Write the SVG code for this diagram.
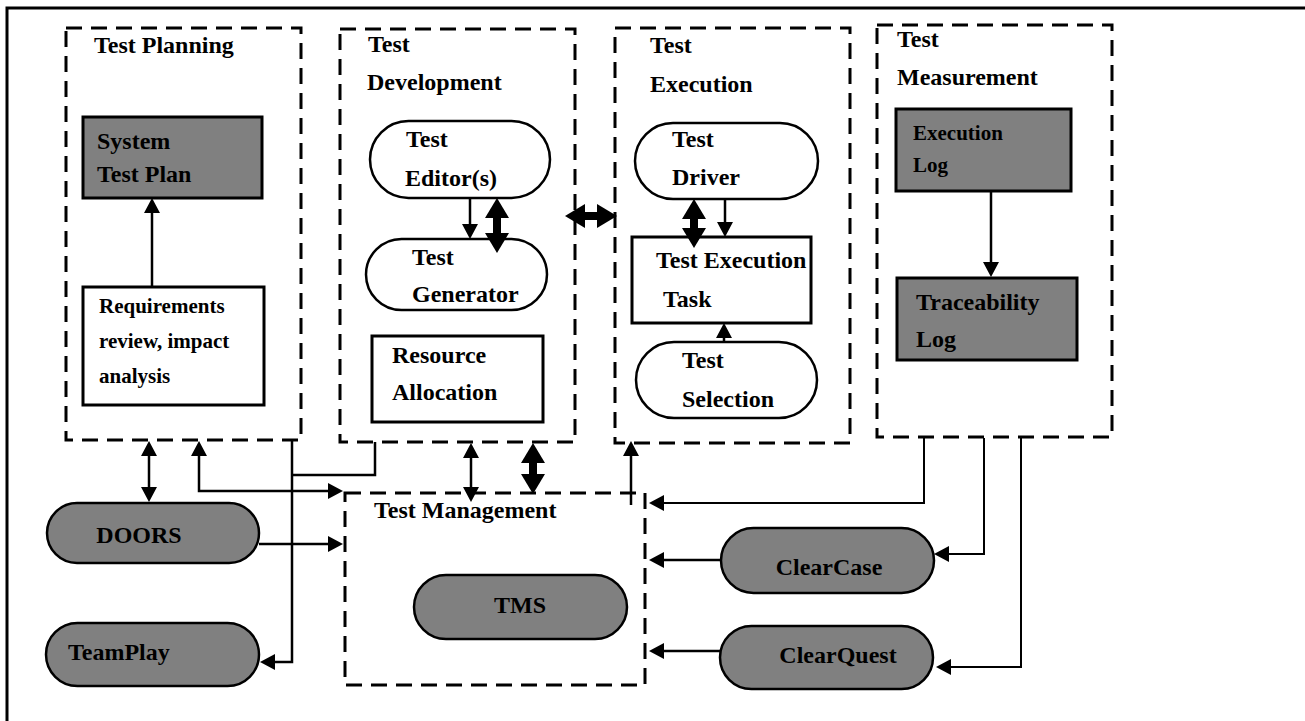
<svg xmlns="http://www.w3.org/2000/svg" width="1305" height="721" viewBox="0 0 1305 721">
<style>
text{font-family:"Liberation Serif","Times New Roman",serif;font-weight:bold;font-size:24px;fill:#000}
.sm{font-size:21px}
.grp{fill:none;stroke:#000;stroke-width:3;stroke-dasharray:16 9}
.box{fill:#fff;stroke:#000;stroke-width:3}
.gbox{fill:#808080;stroke:#000;stroke-width:3}
.pill{fill:#fff;stroke:#000;stroke-width:2.5}
.gpill{fill:#808080;stroke:#000;stroke-width:2.5}
.c{fill:none;stroke:#000;stroke-width:2.5}
.t{fill:none;stroke:#000;stroke-width:2}
.k{fill:none;stroke:#000;stroke-width:8}
</style>
<defs>
<marker id="a" markerUnits="userSpaceOnUse" viewBox="0 0 15 16" refX="0" refY="8" markerWidth="15" markerHeight="16" orient="auto-start-reverse"><path d="M0,0 L15,8 L0,16 z" fill="#000"/></marker>
<marker id="b" markerUnits="userSpaceOnUse" viewBox="0 0 20 24" refX="0" refY="12" markerWidth="20" markerHeight="24" orient="auto-start-reverse"><path d="M0,0 L20,12 L0,24 z" fill="#000"/></marker>
</defs>
<g id="frame"><path d="M7,721 V8 H1305" fill="none" stroke="#000" stroke-width="3"/></g>

<g id="test-planning">
<rect class="grp" x="66" y="28" width="235" height="412"/>
<text x="94" y="53">Test Planning</text>
</g>
<g id="system-test-plan">
<rect class="gbox" x="83" y="117" width="179" height="81"/>
<text x="97" y="149">System</text><text x="97" y="182">Test Plan</text>
</g>
<g id="requirements">
<rect class="box" x="83" y="287" width="181" height="118"/>
<text class="sm" x="99" y="313">Requirements</text><text class="sm" x="99" y="348">review, impact</text><text class="sm" x="99" y="383">analysis</text>
</g>

<g id="test-development">
<rect class="grp" x="340" y="29" width="235" height="413"/>
<text x="368" y="52">Test</text><text x="367" y="90">Development</text>
</g>
<g id="test-editors">
<rect class="pill" x="370" y="121" width="180" height="77" rx="38.5"/>
<text x="406" y="147">Test</text><text x="405" y="186">Editor(s)</text>
</g>
<g id="test-generator">
<rect class="pill" x="366" y="239" width="181" height="71" rx="35.5"/>
<text x="412" y="265">Test</text><text x="412" y="302">Generator</text>
</g>
<g id="resource-allocation">
<rect class="box" x="372" y="336" width="171" height="86"/>
<text x="392" y="363">Resource</text><text x="392" y="400">Allocation</text>
</g>

<g id="test-execution">
<rect class="grp" x="615" y="28" width="235" height="415"/>
<text x="650" y="53">Test</text><text x="650" y="92">Execution</text>
</g>
<g id="test-driver">
<rect class="pill" x="635" y="123" width="183" height="76" rx="38"/>
<text x="672" y="147">Test</text><text x="672" y="185">Driver</text>
</g>
<g id="test-execution-task">
<rect class="box" x="632" y="237" width="179" height="86"/>
<text x="656" y="268">Test Execution</text><text x="663" y="307">Task</text>
</g>
<g id="test-selection">
<rect class="pill" x="636" y="342" width="181" height="76" rx="38"/>
<text x="682" y="368">Test</text><text x="682" y="407">Selection</text>
</g>

<g id="test-measurement">
<rect class="grp" x="877" y="25" width="235" height="412"/>
<text x="897" y="47">Test</text><text x="897" y="85">Measurement</text>
</g>
<g id="execution-log">
<rect class="gbox" x="896" y="109" width="175" height="82"/>
<text class="sm" x="913" y="140">Execution</text><text class="sm" x="913" y="172">Log</text>
</g>
<g id="traceability-log">
<rect class="gbox" x="897" y="278" width="180" height="82"/>
<text x="916" y="310">Traceability</text><text x="916" y="347">Log</text>
</g>

<g id="test-management">
<rect class="grp" x="345" y="493" width="300" height="192"/>
<text x="374" y="518">Test Management</text>
</g>
<g id="tms">
<rect class="gpill" x="414" y="575" width="213" height="64" rx="32"/>
<text x="520" y="613" text-anchor="middle">TMS</text>
</g>
<g id="doors">
<rect class="gpill" x="47" y="503" width="212" height="60" rx="30"/>
<text x="139" y="543" text-anchor="middle">DOORS</text>
</g>
<g id="teamplay">
<rect class="gpill" x="46" y="623" width="213" height="63" rx="31.5"/>
<text x="68" y="660">TeamPlay</text>
</g>
<g id="clearcase">
<rect class="gpill" x="721" y="528" width="213" height="65" rx="32.5"/>
<text x="829" y="575" text-anchor="middle">ClearCase</text>
</g>
<g id="clearquest">
<rect class="gpill" x="720" y="626" width="213" height="63" rx="31.5"/>
<text x="838" y="663" text-anchor="middle">ClearQuest</text>
</g>

<g id="connectors">
<path class="c" d="M152,287 V213" marker-end="url(#a)"/>
<path class="c" d="M470,198 V224" marker-end="url(#a)"/>
<path class="k" d="M497,218 V233" marker-start="url(#b)" marker-end="url(#b)"/>
<path class="k" d="M585,216 H597" marker-start="url(#b)" marker-end="url(#b)"/>
<path class="k" d="M694,219 V228" marker-start="url(#b)" marker-end="url(#b)"/>
<path class="c" d="M725,199 V222" marker-end="url(#a)"/>
<path class="c" d="M724,343 V338" marker-end="url(#a)"/>
<path class="c" d="M991,191 V262" marker-end="url(#a)"/>
<path class="c" d="M149,456 V487" marker-start="url(#a)" marker-end="url(#a)"/>
<path class="c" d="M199,456 V491 H328" marker-start="url(#a)" marker-end="url(#a)"/>
<path class="c" d="M375,442 V475 H292"/>
<path class="c" d="M292,440 V662 H275" marker-end="url(#a)"/>
<path class="c" d="M259,544 H328" marker-end="url(#a)"/>
<path class="c" d="M471,458 V487" marker-start="url(#a)" marker-end="url(#a)"/>
<path class="k" d="M533,463 V474" marker-start="url(#b)" marker-end="url(#b)"/>
<path class="c" d="M631,505 V456" marker-end="url(#a)"/>
<path class="t" d="M924,438 V503 H664" marker-end="url(#a)"/>
<path class="t" d="M984,438 V554 H949" marker-end="url(#a)"/>
<path class="t" d="M1021,438 V667 H951" marker-end="url(#a)"/>
<path class="c" d="M721,560 H664" marker-end="url(#a)"/>
<path class="c" d="M720,651 H664" marker-end="url(#a)"/>
</g>
</svg>
